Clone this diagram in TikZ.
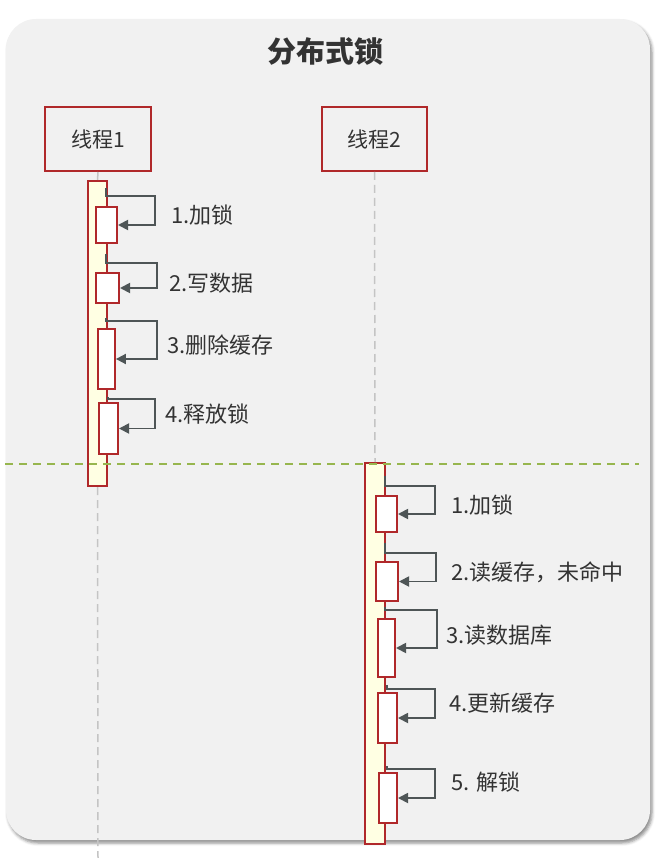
\documentclass[tikz,border=0pt]{standalone}
\usepackage{fontspec}
\setmainfont{Noto Sans CJK SC}
\usetikzlibrary{arrows.meta,shadows.blur}

\definecolor{panelbg}{HTML}{F1F1F1}
\definecolor{edgered}{HTML}{B0282A}
\definecolor{barfill}{HTML}{FFFFE3}
\definecolor{txt}{HTML}{333333}
\definecolor{loopgrey}{HTML}{4E5556}
\definecolor{lifegrey}{HTML}{C4C4C4}
\definecolor{splitgreen}{HTML}{97B64E}

\tikzset{
  threadbox/.style={draw=edgered, line width=2pt, fill=panelbg,
    minimum width=106pt, minimum height=64pt, inner sep=0pt,
    font=\fontsize{21pt}{23pt}\selectfont, text=txt},
  actbar/.style={draw=edgered, line width=2pt, fill=barfill, inner sep=0pt},
  callbox/.style={draw=edgered, line width=2pt, fill=white, inner sep=0pt},
  lifeline/.style={draw=lifegrey, line width=1.5pt, dash pattern=on 8pt off 5pt},
  selfcall/.style={draw=loopgrey, line width=1.8pt,
    -{Triangle[length=10pt,width=10pt]}},
  steplabel/.style={anchor=west, inner sep=0pt, text=txt,
    font=\fontsize{22pt}{24pt}\selectfont},
  divider/.style={draw=splitgreen, line width=2pt, dash pattern=on 8pt off 6pt}
}

\begin{document}
\begin{tikzpicture}[x=1pt, y=-1pt]
\useasboundingbox (0,0) rectangle (657,858);

% panel with soft shadow
\path[fill=panelbg, rounded corners=30pt,
  blur shadow={shadow xshift=2pt, shadow yshift=-3pt, shadow blur radius=3pt, shadow opacity=45}]
  (6,19) rectangle (650,840);

% title
\node[text=txt, font=\fontsize{29pt}{32pt}\selectfont\bfseries] (title) at (325,51) {分布式锁};

% participants
\node[threadbox] (t1) at (98,139) {线程1};
\node[threadbox, minimum width=105pt] (t2) at (374.5,139) {线程2};

% activation bars
\node[actbar, minimum width=19pt, minimum height=305pt] (bar1) at (97.5,333.5) {};
\node[actbar, minimum width=20pt, minimum height=381pt] (bar2) at (375,653.5) {};

% lifelines
\coordinate (end1) at (98,858);
\draw[lifeline] (t1.south) -- (bar1.north);
\draw[lifeline] (bar1.south) -- (end1);
\draw[lifeline] (t2.south) -- (bar2.north);

% nested calls of thread 1
\node[callbox, minimum width=21pt, minimum height=36pt] (a1) at (106.5,225) {};
\node[callbox, minimum width=23pt, minimum height=30pt] (a2) at (107.5,288) {};
\node[callbox, minimum width=17pt, minimum height=60pt] (a3) at (106.4,359) {};
\node[callbox, minimum width=19pt, minimum height=51pt] (a4) at (108.5,428.5) {};

% nested calls of thread 2
\node[callbox, minimum width=21pt, minimum height=36pt] (b1) at (386.5,514) {};
\node[callbox, minimum width=22pt, minimum height=39pt] (b2) at (387,581.5) {};
\node[callbox, minimum width=17pt, minimum height=58pt] (b3) at (386.5,648) {};
\node[callbox, minimum width=19pt, minimum height=50pt] (b4) at (387.5,718) {};
\node[callbox, minimum width=18pt, minimum height=50pt] (b5) at (388,798) {};

% self-call connectors, thread 1
\coordinate (sa1) at (106,188);
\coordinate (sa2) at (106,254);
\coordinate (sa3) at (106,318);
\coordinate (sa4) at (108,397);
\draw[selfcall] (sa1) |- (155,196) |- (a1.east);
\draw[selfcall] (sa2) |- (157,263) |- (a2.east);
\draw[selfcall] (sa3) |- (157,321) |- (a3.east);
\draw[selfcall] (sa4) |- (155,399) |- (a4.east);

% self-call connectors, thread 2
\coordinate (sb1) at (385,476);
\coordinate (sb2) at (385,543);
\coordinate (sb3) at (385,607);
\coordinate (sb4) at (387,685);
\coordinate (sb5) at (387,766);
\draw[selfcall] (sb1) |- (435,486) |- (b1.east);
\draw[selfcall] (sb2) |- (436,553) |- (b2.east);
\draw[selfcall] (sb3) |- (437,610) |- (b3.east);
\draw[selfcall] (sb4) |- (435,689) |- (b4.east);
\draw[selfcall] (sb5) |- (435,769) |- (b5.east);

% step labels
\node[steplabel] (la1) at (171,215) {1.加锁};
\node[steplabel] (la2) at (169,283) {2.写数据};
\node[steplabel] (la3) at (167,345) {3.删除缓存};
\node[steplabel] (la4) at (165,414) {4.释放锁};
\node[steplabel] (lb1) at (451,505) {1.加锁};
\node[steplabel] (lb2) at (451,572) {2.读缓存，未命中};
\node[steplabel] (lb3) at (446,635) {3.读数据库};
\node[steplabel] (lb4) at (449,703) {4.更新缓存};
\node[steplabel] (lb5) at (451,782) {5. 解锁};

% divider between the two critical sections
\coordinate (dl) at (5,464);
\coordinate (dr) at (639,464);
\draw[divider] (dl) -- (dr);
\end{tikzpicture}
\end{document}
